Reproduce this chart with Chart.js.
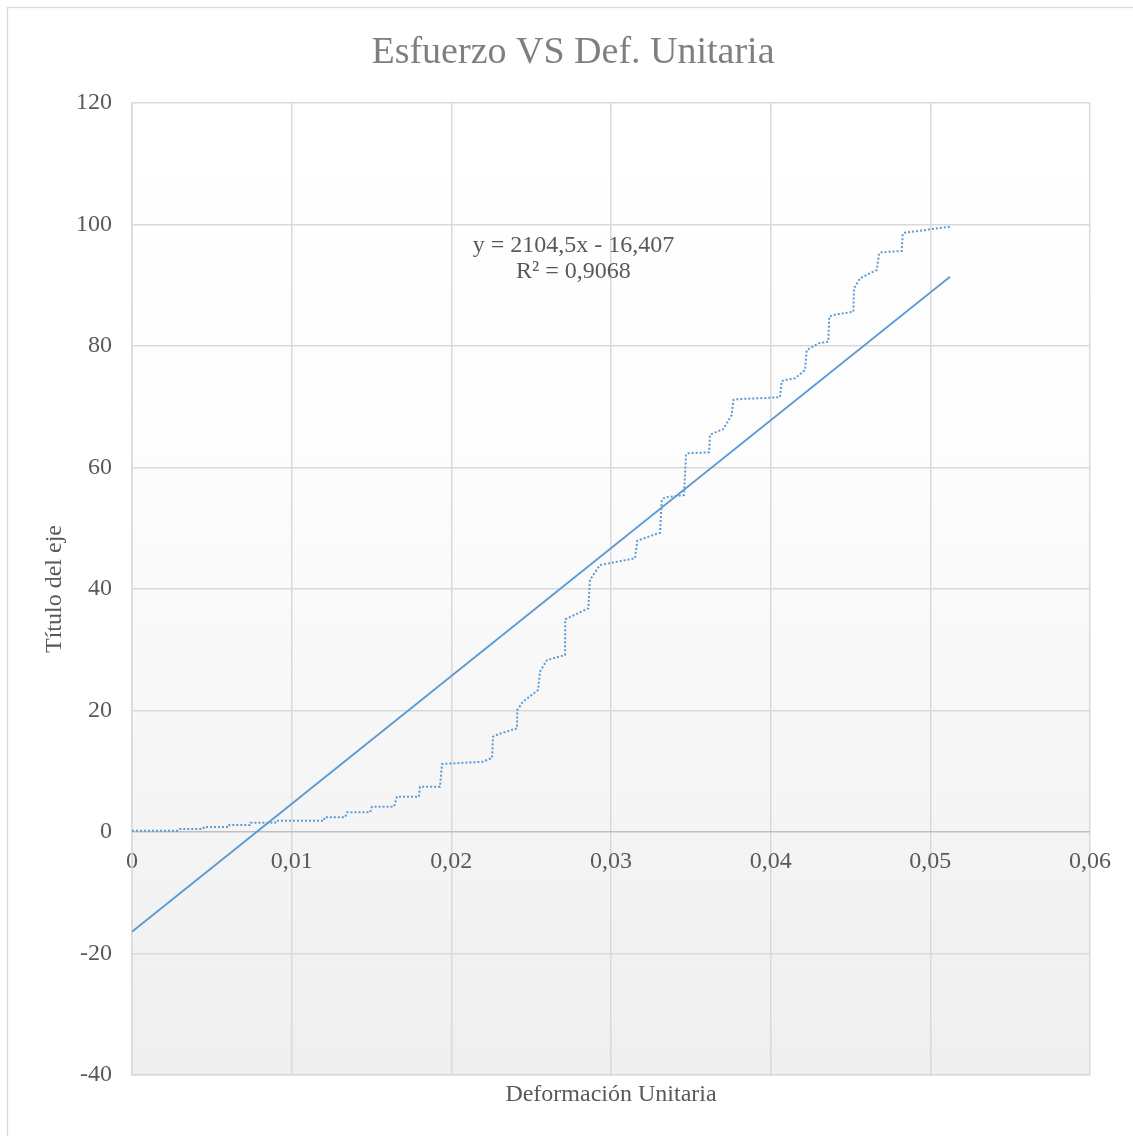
<!DOCTYPE html>
<html lang="es">
<head>
<meta charset="utf-8">
<title>Esfuerzo VS Def. Unitaria</title>
<script src="https://cdn.jsdelivr.net/npm/chart.js@4.4.1/dist/chart.umd.min.js"></script>
<style>
  html, body { margin: 0; padding: 0; background: #ffffff; }
  #wrap { width: 1133px; height: 1136px; position: relative; }
</style>
</head>
<body>
<div id="wrap"><canvas id="chart" width="1133" height="1136"></canvas></div>
<script>
// Ensayo de tracción: deformación unitaria (mm/mm) y esfuerzo
const strain = [
  0, 0.0029, 0.0030, 0.00445, 0.00451, 0.00608, 0.0061, 0.00739, 0.00742, 0.00896,
  0.0090, 0.01203, 0.01205, 0.01334, 0.01347, 0.01491, 0.01503, 0.01641, 0.0166, 0.01797,
  0.01804, 0.01929, 0.01942, 0.02198, 0.02255, 0.02261, 0.02292, 0.02411, 0.02413, 0.02449,
  0.02543, 0.02555, 0.02599, 0.02712, 0.02714, 0.02858, 0.02868, 0.02931, 0.0315, 0.03165,
  0.03307, 0.03318, 0.03338, 0.03457, 0.0347, 0.03482, 0.03614, 0.0362, 0.03639, 0.03702,
  0.03756, 0.03766, 0.03777, 0.04058, 0.04069, 0.0409, 0.04153, 0.04215, 0.04226, 0.04246,
  0.04298, 0.04361, 0.04367, 0.04392, 0.04518, 0.04522, 0.04559, 0.04664, 0.0468, 0.04695,
  0.04821, 0.04827, 0.04841, 0.05123
];
const stress = [
  0.21, 0.21, 0.49, 0.49, 0.82, 0.82, 1.15, 1.15, 1.53, 1.53,
  1.86, 1.86, 2.42, 2.42, 3.24, 3.24, 4.16, 4.16, 5.81, 5.81,
  7.46, 7.46, 11.19, 11.57, 12.18, 15.69, 16.08, 17.07, 20.08, 21.45,
  23.37, 26.39, 28.31, 29.14, 35.01, 36.82, 41.48, 43.95, 45.05, 47.95,
  49.27, 54.65, 55.09, 55.47, 62.17, 62.34, 62.5, 65.35, 65.63, 66.29,
  68.64, 71.11, 71.23, 71.56, 74.22, 74.4, 74.68, 76.05, 79.34, 79.62,
  80.44, 80.71, 84.82, 85.1, 85.65, 89.5, 91.14, 92.51, 95.26, 95.42,
  95.64, 98.44, 98.65, 99.64
];

// Línea de tendencia lineal y su ecuación
const trendSlope = 2104.5;
const trendIntercept = -16.407;
const equationLines = ['y = 2104,5x - 16,407', 'R² = 0,9068'];

// Ejes
const xTickLabels = ['0', '0,01', '0,02', '0,03', '0,04', '0,05', '0,06'];
const yTickLabels = ['-40', '-20', '0', '20', '40', '60', '80', '100', '120'];
const chartTitle = 'Esfuerzo VS Def. Unitaria';
const xAxisTitle = 'Deformación Unitaria';
const yAxisTitle = 'Título del eje';

const SERIF = '"Liberation Serif", "Times New Roman", serif';
const TEXT = '#595959';
const GRID = '#d9d9d9';

const measured = strain.map((x, i) => ({ x: x, y: stress[i] }));
const trendX = [0, strain[strain.length - 1]];
const trend = trendX.map(x => ({ x: x, y: trendSlope * x + trendIntercept }));

const framePlugin = {
  id: 'frame',
  beforeDraw(chart) {
    const { ctx, width, height, chartArea: a } = chart;
    ctx.save();
    ctx.fillStyle = '#ffffff';
    ctx.fillRect(0, 0, width, height);
    // borde exterior del gráfico
    ctx.strokeStyle = GRID;
    ctx.lineWidth = 1.3;
    ctx.strokeRect(7.5, 7.5, width + 20, height + 20);
    // relleno degradado del área de trazado
    const g = ctx.createLinearGradient(0, a.top, 0, a.bottom);
    g.addColorStop(0, '#ffffff');
    g.addColorStop(0.35, '#fdfdfd');
    g.addColorStop(1, '#efefef');
    ctx.fillStyle = g;
    ctx.fillRect(a.left, a.top, a.right - a.left, a.bottom - a.top);
    ctx.restore();
  },
  afterDraw(chart) {
    const { ctx } = chart;
    const xs = chart.scales.x, ys = chart.scales.y;
    ctx.save();
    // título
    ctx.fillStyle = '#7f7f7f';
    ctx.font = '38px ' + SERIF;
    ctx.textAlign = 'center';
    ctx.textBaseline = 'alphabetic';
    ctx.fillText(chartTitle, 573, 63);
    // ecuación de la tendencia
    ctx.fillStyle = TEXT;
    ctx.font = '24px ' + SERIF;
    const ex = xs.getPixelForValue(0.02765);
    const ey = ys.getPixelForValue(95.5);
    equationLines.forEach((t, i) => ctx.fillText(t, ex, ey + i * 26.5));
    ctx.restore();
  }
};

new Chart(document.getElementById('chart'), {
  type: 'scatter',
  data: {
    datasets: [
      {
        label: 'Esfuerzo',
        data: measured,
        showLine: true,
        borderColor: '#5b9bd5',
        borderWidth: 2,
        borderDash: [2, 2],
        pointRadius: 0,
        tension: 0
      },
      {
        label: 'Lineal (Esfuerzo)',
        data: trend,
        showLine: true,
        borderColor: '#5b9bd5',
        borderWidth: 1.8,
        pointRadius: 0,
        tension: 0
      }
    ]
  },
  options: {
    responsive: false,
    animation: false,
    events: [],
    layout: { padding: { top: 103, right: 43, bottom: 0, left: 0 } },
    plugins: {
      legend: { display: false },
      tooltip: { enabled: false },
      title: { display: false }
    },
    scales: {
      x: {
        type: 'linear',
        position: 'bottom',
        min: 0, max: 0.06,
        ticks: { display: false, stepSize: 0.01 },
        grid: { color: GRID, lineWidth: 1.5, drawTicks: false },
        border: { display: true, color: GRID, width: 1.5 },
        title: {
          display: true, text: xAxisTitle, color: TEXT,
          font: { family: SERIF, size: 24 },
          padding: { top: 0, bottom: 27 }
        },
        afterFit(s) { s.height = 61; }
      },
      x2: {
        type: 'linear',
        position: { y: 0 },
        min: 0, max: 0.06,
        ticks: {
          stepSize: 0.01, color: TEXT, padding: 15, maxRotation: 0, autoSkip: false,
          font: { family: SERIF, size: 24 },
          callback: (v, i) => xTickLabels[i]
        },
        grid: { display: false, drawTicks: false },
        border: { display: false }
      },
      y: {
        type: 'linear',
        position: 'left',
        min: -40, max: 120,
        ticks: {
          stepSize: 20, color: TEXT, padding: 20,
          font: { family: SERIF, size: 24 },
          callback: (v, i) => yTickLabels[i]
        },
        grid: {
          color: c => (c.tick && c.tick.value === 0 ? '#bfbfbf' : GRID),
          lineWidth: 1.5, drawTicks: false
        },
        border: { display: true, color: GRID, width: 1.5 },
        title: {
          display: true, text: yAxisTitle, color: TEXT,
          font: { family: SERIF, size: 24 },
          padding: { top: 40, bottom: 0 }
        },
        afterFit(s) { s.width = 132; }
      }
    }
  },
  plugins: [framePlugin]
});
</script>
</body>
</html>
